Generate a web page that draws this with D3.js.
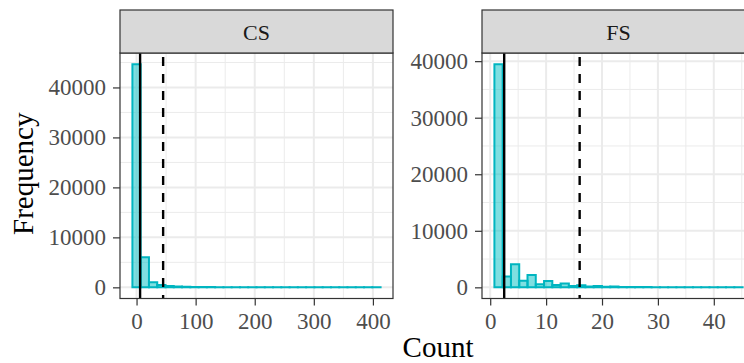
<!DOCTYPE html>
<html>
<head>
<meta charset="utf-8">
<script src="https://cdn.jsdelivr.net/npm/d3@7"></script>
<style>
  html, body { margin: 0; padding: 0; background: #fff; overflow: hidden; }
  svg { display: block; font-family: "Liberation Serif", "Times New Roman", serif; }
</style>
</head>
<body>
<svg id="chart"></svg>
<script>
// Faceted histogram of Count (CS / FS), 30 bins each, with two reference lines per panel

const panelNames = ["CS", "FS"];

// bin counts
const csCounts = [44660, 6000, 1000, 460, 250, 160, 110, 80, 60, 50,
                  40, 35, 30, 25, 20, 18, 15, 12, 10, 9,
                  8, 7, 6, 5, 5, 4, 3, 3, 2, 2];
const fsCounts = [39470, 1900, 4080, 1170, 2180, 530, 1120, 410, 700, 230,
                  380, 140, 220, 90, 130, 60, 70, 40, 45, 30,
                  25, 20, 15, 12, 10, 8, 6, 5, 4, 3];

// bin layout (data units)
const csBinStart = -7, csBinWidth = 14;
const fsBinStart = 0.75, fsBinWidth = 1.48;

// vertical reference lines (solid, dashed)
const solidLines = [6, 2.5];
const dashedLines = [45, 16];

const csXTicks = [0, 100, 200, 300, 400];
const fsXTicks = [0, 10, 20, 30, 40];
const yTicks = [0, 10000, 20000, 30000, 40000];

const panelData = [
    {name: panelNames[0], counts: csCounts, start: csBinStart, width: csBinWidth,
     solid: solidLines[0], dashed: dashedLines[0], xTicks: csXTicks},
    {name: panelNames[1], counts: fsCounts, start: fsBinStart, width: fsBinWidth,
     solid: solidLines[1], dashed: dashedLines[1], xTicks: fsXTicks}
];

const W = 744, H = 363;
const stripTop = 10, panelTop = 53, panelBottom = 298.5;
const panelLefts = [120, 482];
const panelW = 273;

const tickColor = "#4d4d4d";
const borderColor = "#333333";
const gridColor = "#ebebeb";
const barColor = "#00BFC4";

const svg = d3.select("#chart")
    .attr("width", W)
    .attr("height", H);

panelData.forEach((p, i) => {
    const left = panelLefts[i];
    const n = p.counts.length;
    const binEnd = p.start + n * p.width;
    const span = binEnd - p.start;
    const maxCount = d3.max(p.counts);

    const x = d3.scaleLinear()
        .domain([p.start - 0.05 * span, binEnd + 0.05 * span])
        .range([left, left + panelW]);
    const y = d3.scaleLinear()
        .domain([-0.05 * maxCount, maxCount * 1.05])
        .range([panelBottom, panelTop]);

    const clipId = "clip-" + i;
    svg.append("clipPath").attr("id", clipId)
        .append("rect")
        .attr("x", left).attr("y", panelTop)
        .attr("width", panelW).attr("height", panelBottom - panelTop);

    const g = svg.append("g").attr("clip-path", `url(#${clipId})`);

    // grid: minor then major
    const xStep = p.xTicks[1] - p.xTicks[0];
    const xMinor = d3.range(p.xTicks[0] - xStep / 2, x.domain()[1] + xStep, xStep);
    const yStep = yTicks[1] - yTicks[0];
    const yMinor = d3.range(yTicks[0] - yStep / 2, y.domain()[1] + yStep, yStep);
    const xMajor = d3.range(p.xTicks[0] - xStep, x.domain()[1] + xStep, xStep);

    g.selectAll("line.xminor").data(xMinor).enter().append("line")
        .attr("x1", d => x(d)).attr("x2", d => x(d))
        .attr("y1", panelTop).attr("y2", panelBottom)
        .attr("stroke", gridColor).attr("stroke-width", 1);
    g.selectAll("line.yminor").data(yMinor).enter().append("line")
        .attr("x1", left).attr("x2", left + panelW)
        .attr("y1", d => y(d)).attr("y2", d => y(d))
        .attr("stroke", gridColor).attr("stroke-width", 1);
    g.selectAll("line.xmajor").data(xMajor).enter().append("line")
        .attr("x1", d => x(d)).attr("x2", d => x(d))
        .attr("y1", panelTop).attr("y2", panelBottom)
        .attr("stroke", gridColor).attr("stroke-width", 2);
    g.selectAll("line.ymajor").data(yTicks).enter().append("line")
        .attr("x1", left).attr("x2", left + panelW)
        .attr("y1", d => y(d)).attr("y2", d => y(d))
        .attr("stroke", gridColor).attr("stroke-width", 2);

    // bars as paths so that empty bins still show their outline
    g.selectAll("path.bar").data(p.counts).enter().append("path")
        .attr("class", "bar")
        .attr("d", (d, k) => {
            const x0 = x(p.start + k * p.width), x1 = x(p.start + (k + 1) * p.width);
            return `M${x0},${y(0)}V${y(d)}H${x1}V${y(0)}Z`;
        })
        .attr("fill", barColor)
        .attr("fill-opacity", 0.5)
        .attr("stroke", "#00B5C0")
        .attr("stroke-width", 2)
        .attr("stroke-linejoin", "miter");

    // reference lines
    g.append("line")
        .attr("x1", x(p.solid)).attr("x2", x(p.solid))
        .attr("y1", panelTop).attr("y2", panelBottom)
        .attr("stroke", "#000").attr("stroke-width", 2.4);
    g.append("line")
        .attr("x1", x(p.dashed)).attr("x2", x(p.dashed))
        .attr("y1", panelTop + 4).attr("y2", panelBottom)
        .attr("stroke", "#000").attr("stroke-width", 2.4)
        .attr("stroke-dasharray", "9,8");

    // panel border
    svg.append("rect")
        .attr("x", left).attr("y", panelTop)
        .attr("width", panelW).attr("height", panelBottom - panelTop)
        .attr("fill", "none").attr("stroke", borderColor).attr("stroke-width", 1.2);

    // strip
    svg.append("rect")
        .attr("x", left).attr("y", stripTop)
        .attr("width", panelW).attr("height", panelTop - stripTop)
        .attr("fill", "#d9d9d9").attr("stroke", borderColor).attr("stroke-width", 1.2);
    svg.append("text")
        .attr("x", left + panelW / 2)
        .attr("y", (stripTop + panelTop) / 2 + 8)
        .attr("text-anchor", "middle")
        .attr("fill", "#1a1a1a")
        .style("font-size", "22px")
        .text(p.name);

    // axes
    const xAxis = svg.append("g")
        .attr("transform", `translate(0,${panelBottom})`)
        .call(d3.axisBottom(x).tickValues(p.xTicks).tickSize(7).tickPadding(7).tickFormat(d3.format("d")));
    const yAxis = svg.append("g")
        .attr("transform", `translate(${left},0)`)
        .call(d3.axisLeft(y).tickValues(yTicks).tickSize(7).tickPadding(7).tickFormat(d3.format("d")));

    [xAxis, yAxis].forEach(a => {
        a.select(".domain").remove();
        a.selectAll(".tick line").attr("stroke", borderColor).attr("stroke-width", 1.2);
        a.selectAll(".tick text")
            .attr("fill", tickColor)
            .style("font-size", "23px")
            .style("font-family", "'Liberation Serif', 'Times New Roman', serif");
    });
});

// axis titles
svg.append("text")
    .attr("x", 438)
    .attr("y", 357)
    .attr("text-anchor", "middle")
    .attr("fill", "#000")
    .style("font-size", "29px")
    .text("Count");

svg.append("text")
    .attr("transform", `translate(33,${(panelTop + panelBottom) / 2 - 2}) rotate(-90)`)
    .attr("text-anchor", "middle")
    .attr("fill", "#000")
    .style("font-size", "29px")
    .text("Frequency");
</script>
</body>
</html>
